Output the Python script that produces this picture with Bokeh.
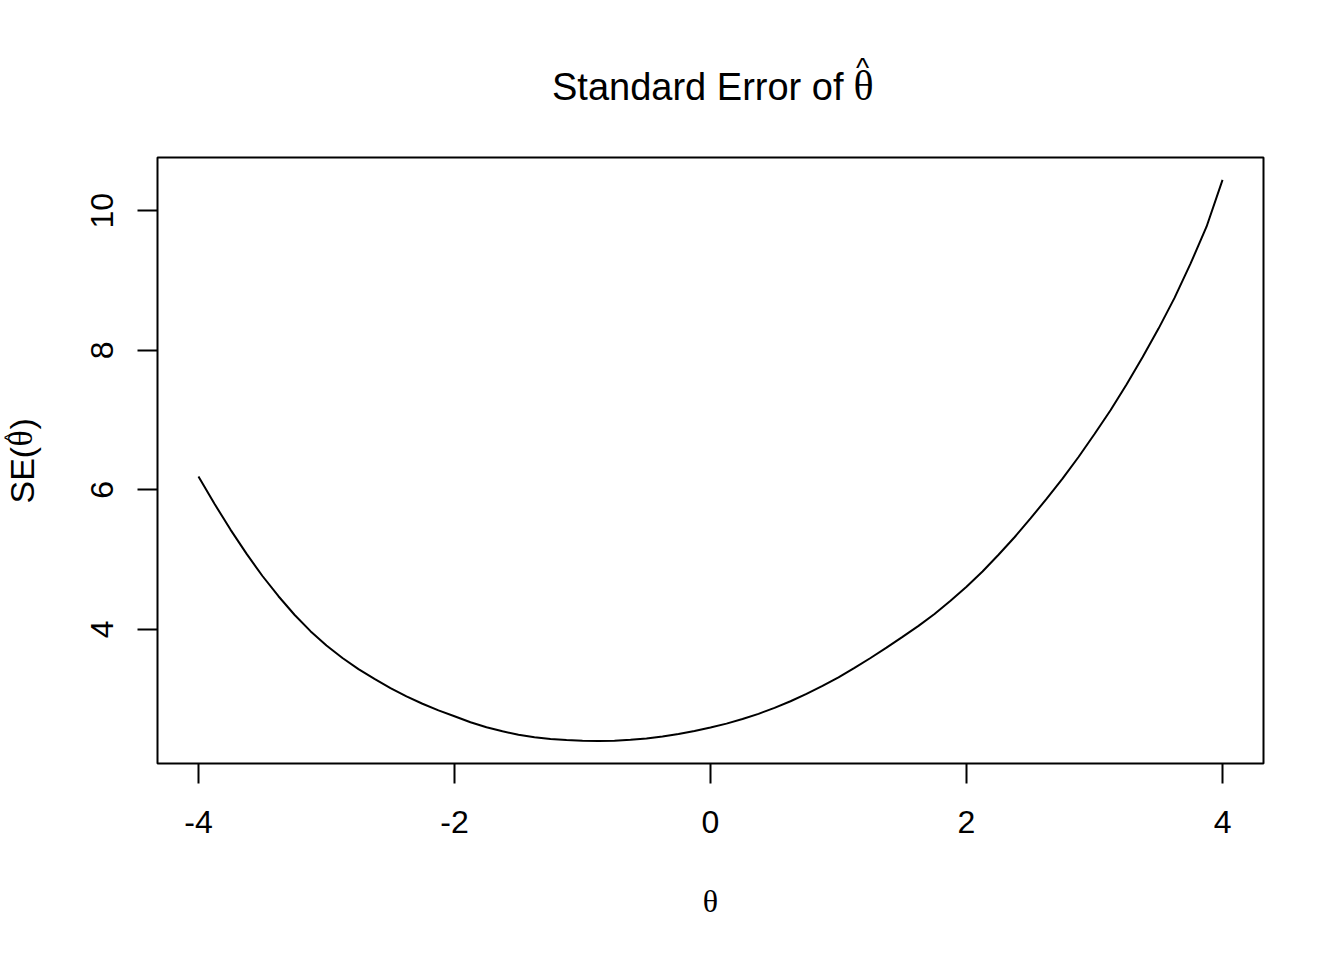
from bokeh.plotting import figure
from bokeh.models import Range1d, FixedTicker, Label
from bokeh.embed import file_html
from bokeh.resources import INLINE

# ---- data ----
theta = [-4.0, -3.875, -3.75, -3.625, -3.5, -3.375, -3.25, -3.125, -3.0, -2.875,
         -2.75, -2.625, -2.5, -2.375, -2.25, -2.125, -2.0, -1.875, -1.75, -1.625,
         -1.5, -1.375, -1.25, -1.125, -1.0, -0.875, -0.75, -0.625, -0.5, -0.375,
         -0.25, -0.125, 0.0, 0.125, 0.25, 0.375, 0.5, 0.625, 0.75, 0.875,
         1.0, 1.125, 1.25, 1.375, 1.5, 1.625, 1.75, 1.875, 2.0, 2.125,
         2.25, 2.375, 2.5, 2.625, 2.75, 2.875, 3.0, 3.125, 3.25, 3.375,
         3.5, 3.625, 3.75, 3.875, 4.0]
se = [6.19, 5.80, 5.43, 5.085, 4.765, 4.475, 4.21, 3.975, 3.77, 3.59,
      3.43, 3.29, 3.16, 3.04, 2.935, 2.84, 2.755, 2.67, 2.597, 2.54,
      2.49, 2.455, 2.43, 2.415, 2.405, 2.40, 2.405, 2.418, 2.438, 2.466,
      2.501, 2.543, 2.593, 2.65, 2.715, 2.79, 2.875, 2.97, 3.075, 3.19,
      3.313, 3.448, 3.59, 3.738, 3.893, 4.05, 4.22, 4.41, 4.61, 4.83,
      5.07, 5.32, 5.59, 5.87, 6.16, 6.47, 6.80, 7.14, 7.51, 7.90,
      8.31, 8.75, 9.24, 9.77, 10.44]
x_ticks = [-4, -2, 0, 2, 4]
y_ticks = [4, 6, 8, 10]
title_text = "Standard Error of"
theta_sym = "θ"
hat_sym = "^"
ylab_pre = "SE("
ylab_post = ")"

SANS = "Liberation Sans"
SERIF = "Liberation Serif"

# R-style 4% range expansion
xmin, xmax = min(theta), max(theta)
ymin, ymax = min(se), max(se)
xpad = 0.04 * (xmax - xmin)
ypad = 0.04 * (ymax - ymin)
x0, x1 = xmin - xpad, xmax + xpad
y0, y1 = ymin - ypad, ymax + ypad

W, H = 1340, 944
BL, BT = 157, 157
FW, FH = 1106, 606
BR = W - BL - FW
BB = H - BT - FH


def xd(px):
    return x0 + (px - BL) / FW * (x1 - x0)


def yd(py):
    return y1 - (py - BT) / FH * (y1 - y0)


p = figure(width=W, height=H, output_backend="svg", toolbar_location=None,
           x_range=Range1d(x0, x1), y_range=Range1d(y0, y1),
           min_border_left=BL, min_border_right=BR,
           min_border_top=BT, min_border_bottom=BB)
p.background_fill_color = "white"
p.border_fill_color = "white"
p.outline_line_color = "black"
p.outline_line_width = 2
p.grid.visible = False

p.line(theta, se, line_color="black", line_width=2)

for ax in (p.xaxis[0], p.yaxis[0]):
    ax.axis_line_color = None
    ax.major_tick_out = 20
    ax.major_tick_in = 0
    ax.minor_tick_out = 0
    ax.minor_tick_in = 0
    ax.major_tick_line_width = 2
    ax.major_tick_line_color = "black"
    ax.major_label_text_font = SANS
    ax.major_label_text_font_size = "32px"
    ax.major_label_text_color = "black"
    ax.axis_label_text_font_style = "normal"
    ax.axis_label_text_font_size = "32px"
    ax.axis_label_text_color = "black"

p.xaxis.ticker = FixedTicker(ticks=x_ticks)
p.yaxis.ticker = FixedTicker(ticks=y_ticks)
p.xaxis.major_label_overrides = {t: str(t) for t in x_ticks}
p.xaxis.major_label_standoff = 27
p.yaxis.major_label_standoff = 24
p.yaxis.major_label_orientation = "vertical"

p.xaxis.axis_label = theta_sym
p.xaxis.axis_label_text_font = SERIF
p.xaxis.axis_label_standoff = 47


def lab(px, py, text, font, size, align="left", angle=0.0):
    return Label(x=xd(px), y=yd(py), text=text, text_align=align,
                 text_baseline="alphabetic", text_font=font,
                 text_font_size=size, text_color="black", angle=angle)


# title pieces (kept in side panels so that they are not clipped to the frame)
p.add_layout(lab(843, 86, title_text, SANS, "38px", "right"), "above")
p.add_layout(lab(853, 85, theta_sym, SERIF, "42px"), "above")
p.add_layout(lab(862, 67, hat_sym, SANS, "28px", "center"), "above")

# y-axis label pieces (rotated)
ang = 1.5707963
p.add_layout(lab(21, 503, ylab_pre, SANS, "34px", angle=ang), "left")
p.add_layout(lab(20, 446, theta_sym, SERIF, "34px", angle=ang), "right")
p.add_layout(lab(10, 437, hat_sym, SANS, "18px", "center", angle=ang), "above")
p.add_layout(lab(21, 429, ylab_post, SANS, "34px", angle=ang), "right")

open("out.html", "w").write(file_html(p, INLINE))
